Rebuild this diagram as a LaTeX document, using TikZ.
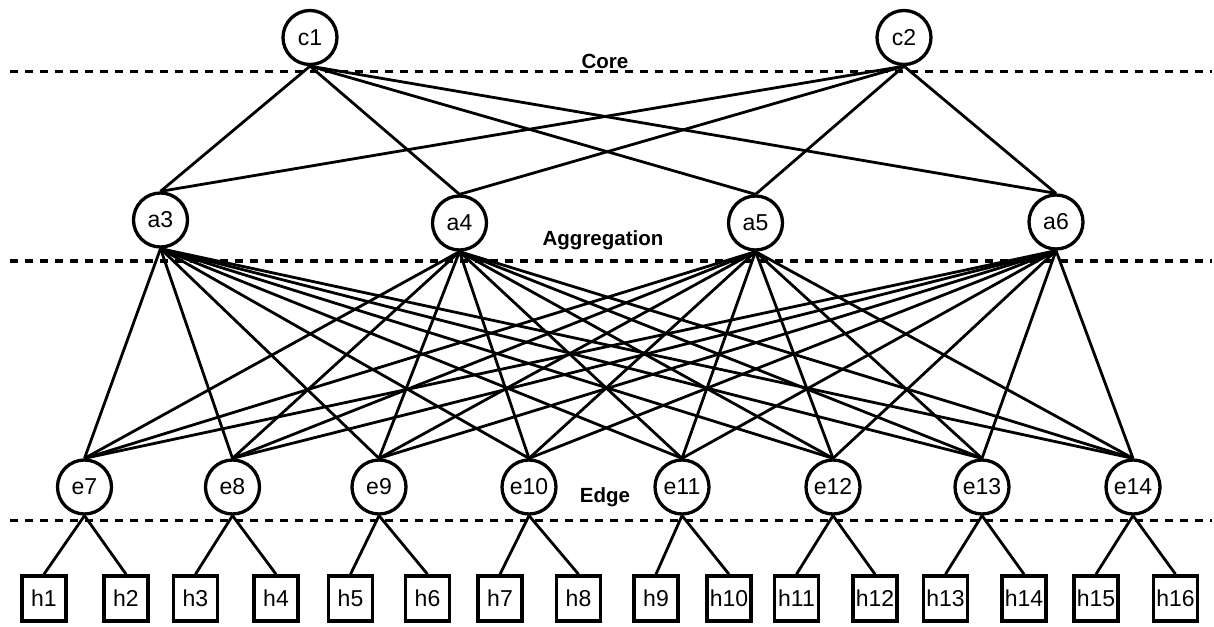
\documentclass[tikz,border=0pt]{standalone}
\usepackage{fontspec}
\setmainfont{Liberation Sans}

\begin{document}
\begin{tikzpicture}[x=1pt,y=-1pt,line width=2.8pt,
  sw/.style={circle,draw,line width=3.3pt,minimum size=54pt,inner sep=0pt,
    font=\fontsize{23}{25}\selectfont},
  host/.style={rectangle,draw,line width=3.6pt,minimum width=44pt,
    minimum height=45pt,inner sep=0pt,font=\fontsize{23}{25}\selectfont},
  layer/.style={font=\bfseries\fontsize{20.5}{22}\selectfont},
  sep/.style={line width=3.2pt,dash pattern=on 7.5pt off 7.5pt}]
  \useasboundingbox (0,0) rectangle (1214,626);
  % separadores de capas
  \draw[sep] (10,71.7)--(1212,71.7);
  \draw[sep] (10,261)--(1212,261);
  \draw[sep] (10,520.5)--(1212,520.5);
  \node[layer] (lcore) at (605,61){Core};
  \node[layer] (lagg) at (603,240){Aggregation};
  \node[layer] (ledge) at (605,497.5){Edge};
  % switches
  \foreach \n/\x in {1/310,2/904}
    \node[sw] (c\n) at (\x,37.5){c\n};
  \foreach \n/\x/\y in {3/160.5/220,4/459.5/223,5/755.5/223,6/1056/222}
    \node[sw] (a\n) at (\x,\y){a\n};
  \foreach \n/\x in {7/84.5,8/232.5,9/379,10/529,11/682,12/833,13/982,14/1133}
    \node[sw] (e\n) at (\x,487){e\n};
  % hosts
  \foreach \n/\x in {1/44,2/126,3/195.5,4/276,5/350.5,6/427.5,7/500,8/578.5,
      9/656,10/729,11/796.5,12/875,13/945.5,14/1024,15/1096,16/1175.5}
    \node[host] (h\n) at (\x,598.5){h\n};
  % enlaces
  \foreach \c in {1,2}
    \foreach \a in {3,...,6}
      \draw (c\c.south)--(a\a.north);
  \foreach \a in {3,...,6}
    \foreach \e in {7,...,14}
      \draw (a\a.south)--(e\e.north);
  \foreach \e/\i/\j in {7/1/2,8/3/4,9/5/6,10/7/8,11/9/10,12/11/12,13/13/14,14/15/16}{
    \draw (e\e.south)--(h\i.north);
    \draw (e\e.south)--(h\j.north);
  }
\end{tikzpicture}
\end{document}
